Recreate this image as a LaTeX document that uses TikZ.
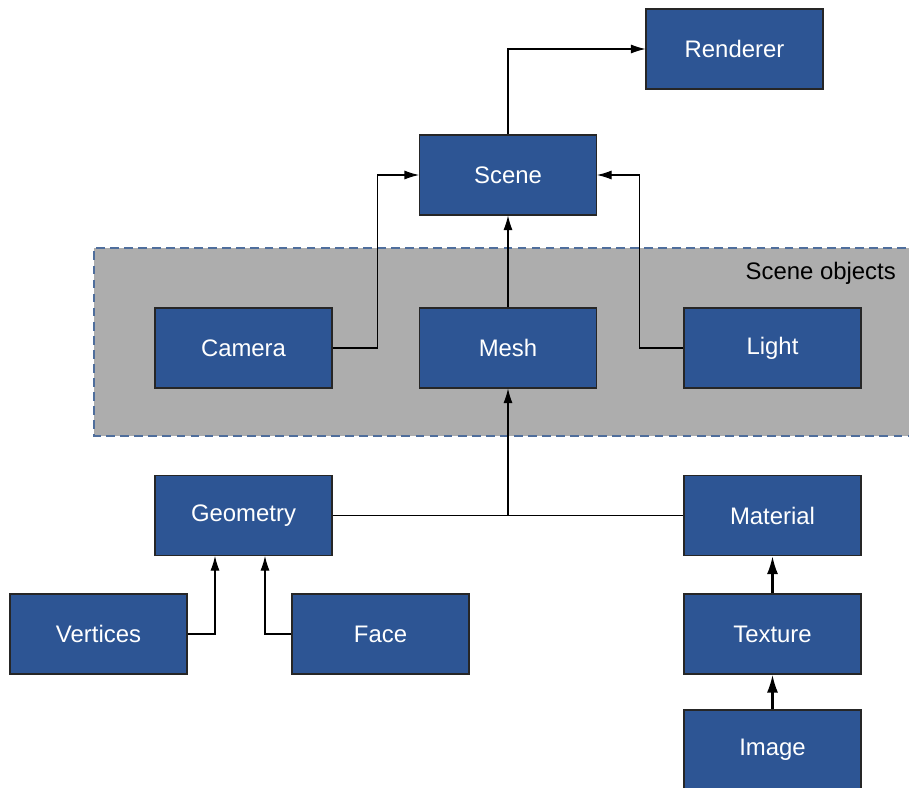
\documentclass[tikz,border=0pt]{standalone}
\usepackage{fontspec}
\setmainfont{Liberation Sans}
\usetikzlibrary{arrows.meta}

\definecolor{boxblue}{HTML}{2D5594}
\definecolor{groupgray}{HTML}{ADADAD}
\definecolor{dashblue}{HTML}{4F6E9C}

\begin{document}
\begin{tikzpicture}[
  box/.style={draw=black!85, fill=boxblue, text=white, minimum width=3.54cm, minimum height=1.6cm, inner sep=0pt, align=center, font=\fontsize{13.6}{15}\selectfont, line width=0.6pt},
  lbl/.style={font=\fontsize{13.6}{15}\selectfont, anchor=east},
  arr/.style={-{Latex[length=2.9mm,width=1.8mm]}, line width=0.6pt},
  bold arr/.style={-{Latex[length=3.6mm,width=2.2mm]}, line width=1.3pt}
]
\useasboundingbox (0,0) rectangle (18.18,-15.76);

% group of scene objects
\fill[groupgray] (1.88,-4.96) rectangle (18.4,-8.72);
\draw[dashblue, dashed, line width=0.7pt, dash pattern=on 5pt off 3pt] (18.4,-4.96) -- (1.88,-4.96) -- (1.88,-8.72) -- (18.4,-8.72);
\node[lbl] (grp) at (18.04,-5.46) {Scene objects};

\node[box] (renderer) at (14.69,-0.98) {Renderer};
\node[box] (scene) at (10.16,-3.5) {Scene};

\node[box] (camera) at (4.87,-6.96) {Camera};
\node[box] (mesh) at (10.16,-6.96) {Mesh};
\node[box] (light) at (15.45,-6.96) {Light};

\node[box] (geometry) at (4.87,-10.31) {Geometry};
\node[box] (material) at (15.45,-10.31) {Material};
\node[box] (vertices) at (1.97,-12.68) {Vertices};
\node[box] (face) at (7.61,-12.68) {Face};
\node[box] (texture) at (15.45,-12.68) {Texture};
\node[box] (image) at (15.45,-15.0) {Image};

\draw[arr] (scene.north) |- (renderer.west);
\draw[arr] (camera.east) -- ++(0.9,0) |- (scene.west);
\draw[arr] (light.west) -- ++(-0.88,0) |- (scene.east);
\draw[arr] (mesh.north) -- (scene.south);

\coordinate (join) at (mesh.south |- geometry.east);
\draw[line width=0.6pt] (geometry.east) -- (material.west);
\draw[arr] (join) -- (mesh.south);

\draw[arr] (vertices.east) -| ([xshift=-0.57cm]geometry.south);
\draw[arr] (face.west) -| ([xshift=0.43cm]geometry.south);

\draw[bold arr] (texture.north) -- (material.south);
\draw[bold arr] (image.north) -- (texture.south);
\end{tikzpicture}
\end{document}
